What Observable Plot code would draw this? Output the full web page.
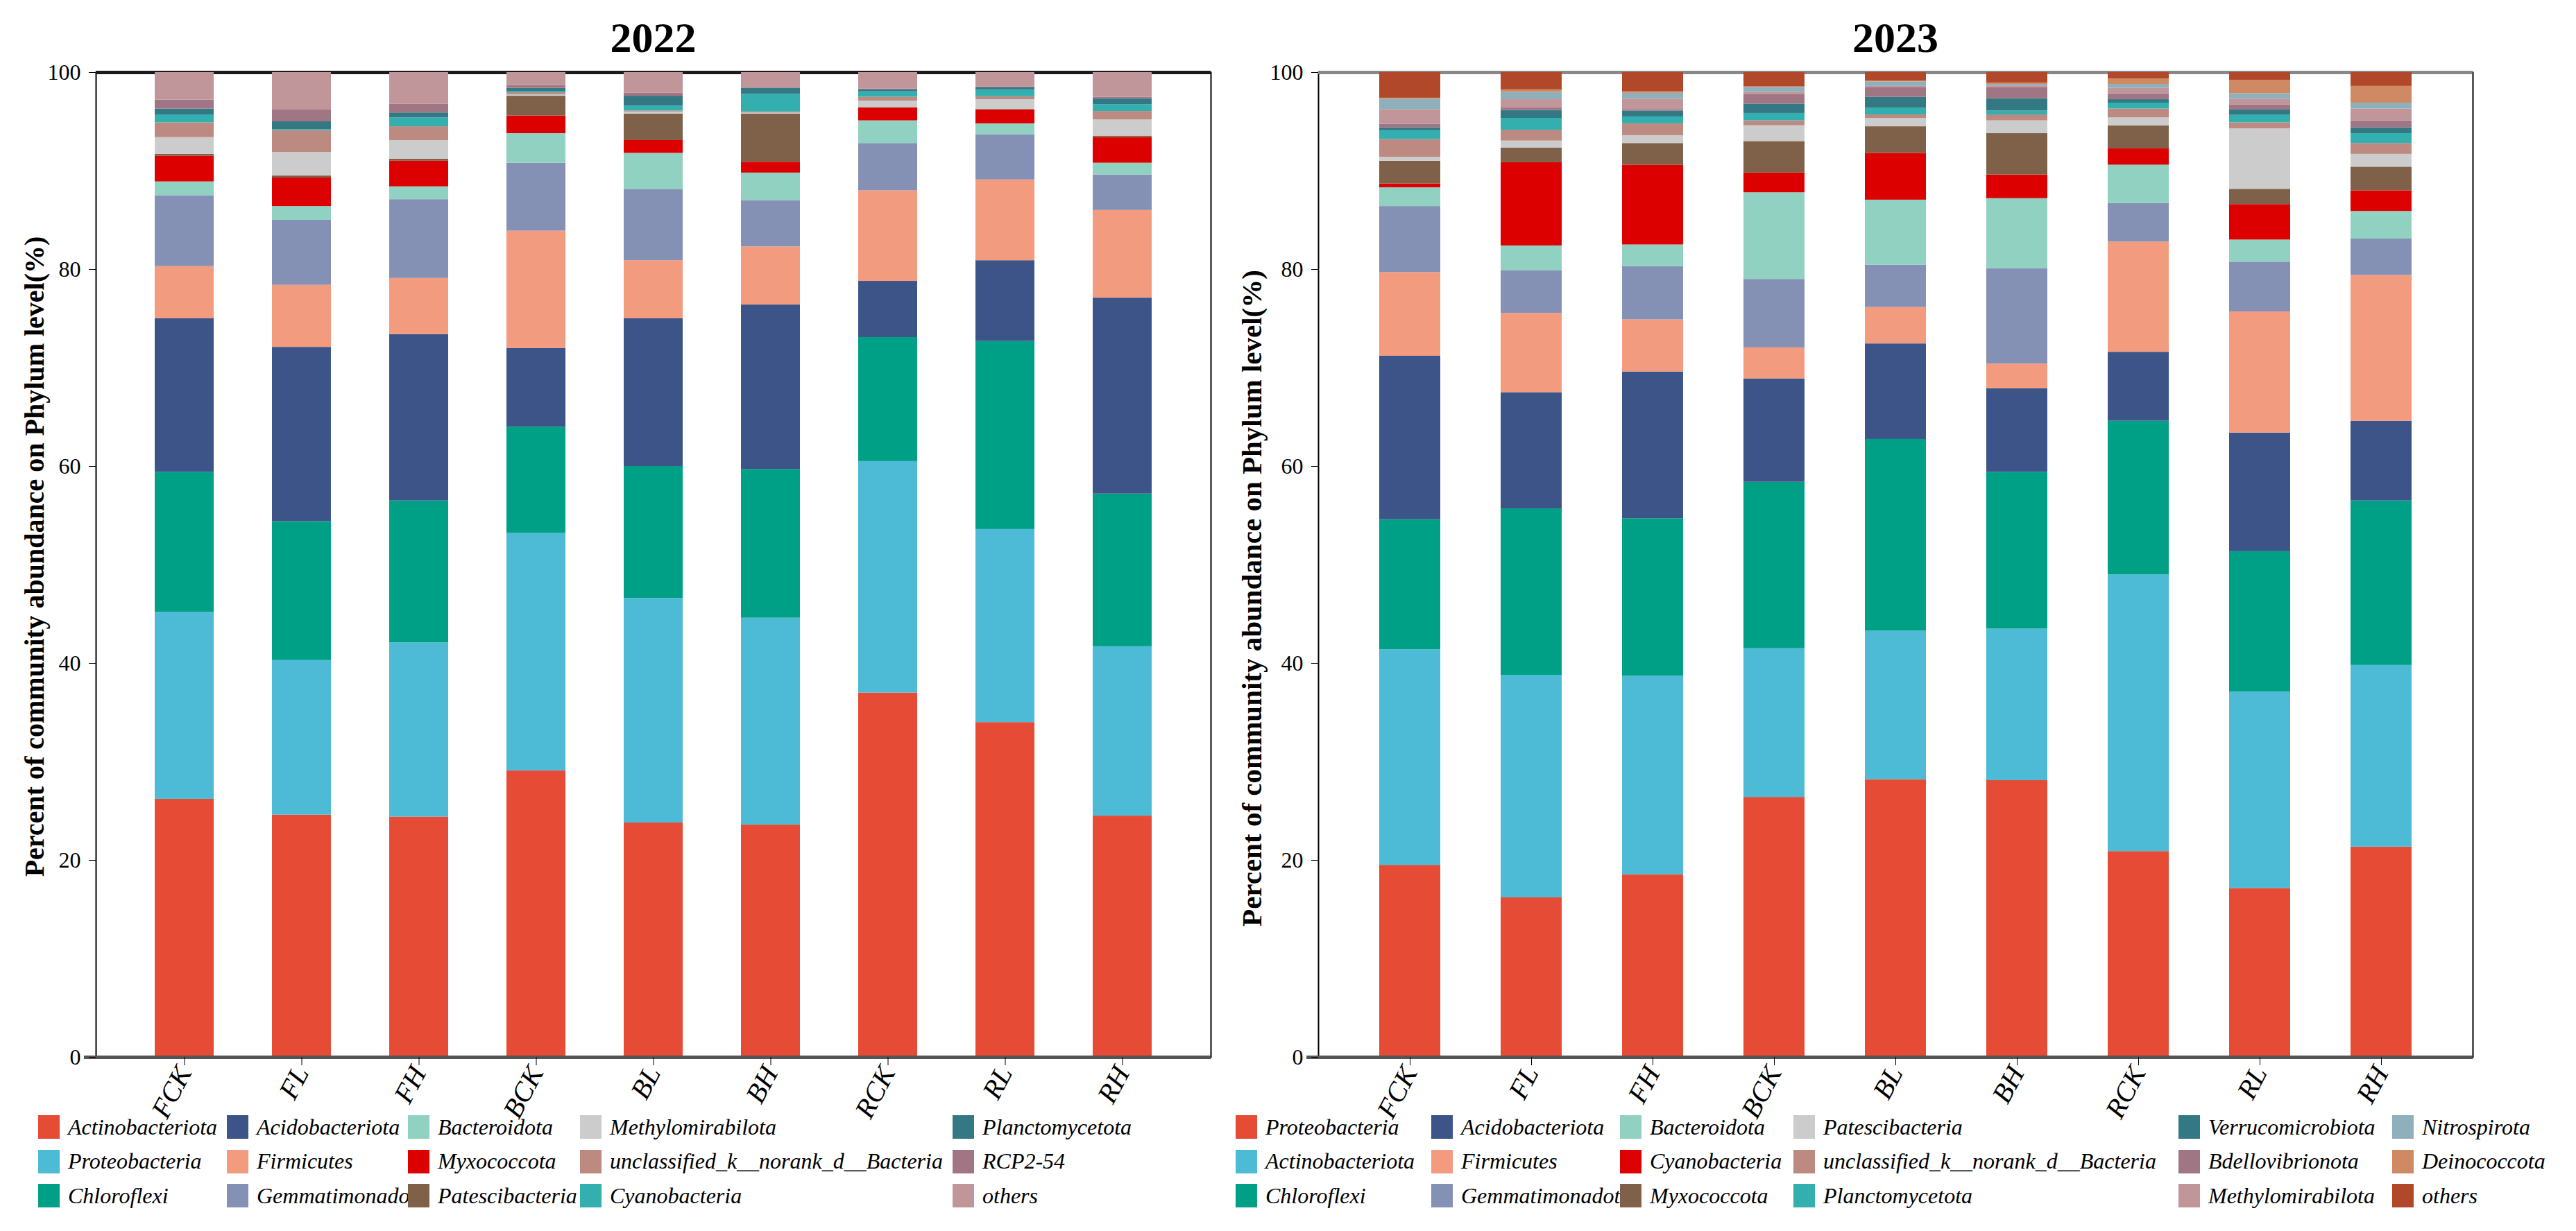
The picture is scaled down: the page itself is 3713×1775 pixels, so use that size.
<!DOCTYPE html>
<html>
<head>
<meta charset="utf-8">
<script src="https://cdn.jsdelivr.net/npm/d3@7"></script>
<script src="https://cdn.jsdelivr.net/npm/@observablehq/plot@0.6"></script>
<style>
  html, body { margin: 0; padding: 0; background: #fff; }
  #page { position: relative; width: 3713px; height: 1775px; overflow: hidden; background: #fff; font-family: "Liberation Serif", "Times New Roman", serif; }
  .title { position: absolute; text-align: center; font-weight: bold; font-size: 62px; line-height: 62px; color: #000; }
  .chart { position: absolute; top: 80px; }
  .chart svg { overflow: visible; }
  g[aria-label="y-axis label"] text { font-weight: bold; font-size: 40px; }
  #c2022 g[aria-label="y-axis label"] { translate: 0px -12px; }
  #c2023 g[aria-label="y-axis label"] { translate: 0px 48px; }
  #c2023 g[aria-label="y-axis label"] text { font-size: 41px; }
  g[aria-label="x-axis tick label"] text { font-style: italic; }
  .legend { position: absolute; top: 1608px; display: grid; grid-template-rows: repeat(3, 49.5px); grid-auto-flow: column; }
  .item { position: relative; display: flex; align-items: center; height: 34px; white-space: nowrap; font-style: italic; font-size: 32px; color: #000; }
  .sw { position: relative; z-index: 2; flex: 0 0 31px; height: 34px; margin-right: 12px; }
  .lab { position: relative; z-index: 1; }
</style>
</head>
<body>
<div id="page">
  <div class="title" style="left:138px; width:1607px; top:23px;">2022</div>
  <div class="title" style="left:1900px; width:1664px; top:23px;">2023</div>
  <div class="chart" id="c2022" style="left:0px;"></div>
  <div class="chart" id="c2023" style="left:1746px;"></div>
  <div class="legend" id="l2022" style="left:55px; grid-template-columns: 272px 261px 248px 537px 300px;"></div>
  <div class="legend" id="l2023" style="left:1781px; grid-template-columns: 282px 272px 250px 555px 308px 260px;"></div>
</div>
<script>
// ---------- data ----------
const samples = ["FCK", "FL", "FH", "BCK", "BL", "BH", "RCK", "RL", "RH"];
const yTicks = [0, 20, 40, 60, 80, 100];
const yLabel = "Percent of community abundance on Phylum level(%)";

// 2022 phyla (stack order bottom -> top) and colours
const phyla2022 = ["Actinobacteriota", "Proteobacteria", "Chloroflexi", "Acidobacteriota", "Firmicutes",
  "Gemmatimonadota", "Bacteroidota", "Myxococcota", "Patescibacteria", "Methylomirabilota",
  "unclassified_k__norank_d__Bacteria", "Cyanobacteria", "Planctomycetota", "RCP2-54", "others"];
const colors2022 = ["#E64B35", "#4DBBD5", "#00A087", "#3C5488", "#F39B7F", "#8491B4", "#91D1C2", "#DC0000",
  "#7E6148", "#CCCCCC", "#BC8A80", "#33AFAF", "#347884", "#A07584", "#C1969B"];

// 2022 values (%), per sample FCK..RH
const a22_Actinobacteriota = [26.2, 24.6, 24.4, 29.1, 23.8, 23.6, 37.0, 34.0, 24.5];
const a22_Proteobacteria   = [19.0, 15.7, 17.7, 24.1, 22.8, 21.0, 23.5, 19.6, 17.2];
const a22_Chloroflexi      = [14.2, 14.1, 14.4, 10.8, 13.4, 15.1, 12.6, 19.1, 15.5];
const a22_Acidobacteriota  = [15.6, 17.7, 16.9, 8.0, 15.0, 16.7, 5.7, 8.2, 19.9];
const a22_Firmicutes       = [5.3, 6.3, 5.7, 11.9, 5.9, 5.9, 9.2, 8.2, 8.9];
const a22_Gemmatimonadota  = [7.2, 6.6, 8.0, 6.9, 7.2, 4.7, 4.8, 4.6, 3.6];
const a22_Bacteroidota     = [1.4, 1.4, 1.3, 3.0, 3.7, 2.8, 2.3, 1.1, 1.2];
const a22_Myxococcota      = [2.6, 2.9, 2.6, 1.8, 1.3, 1.1, 1.3, 1.4, 2.6];
const a22_Patescibacteria  = [0.2, 0.2, 0.2, 2.0, 2.7, 4.9, 0.05, 0.05, 0.15];
const a22_Methylomirabilota= [1.7, 2.4, 1.9, 0.15, 0.2, 0.1, 0.65, 1.0, 1.65];
const a22_unclassified     = [1.5, 2.2, 1.4, 0.2, 0.1, 0.1, 0.4, 0.3, 0.85];
const a22_Cyanobacteria    = [0.8, 0.1, 0.9, 0.15, 0.5, 1.8, 0.55, 0.7, 0.7];
const a22_Planctomycetota  = [0.6, 0.8, 0.5, 0.3, 1.0, 0.6, 0.2, 0.2, 0.6];
const a22_RCP2_54          = [0.9, 1.2, 0.9, 0.3, 0.3, 0.1, 0.1, 0.1, 0.15];
const a22_others           = [2.8, 3.8, 3.2, 1.3, 2.1, 1.5, 1.65, 1.45, 2.5];

// 2023 phyla (stack order bottom -> top) and colours
const phyla2023 = ["Proteobacteria", "Actinobacteriota", "Chloroflexi", "Acidobacteriota", "Firmicutes",
  "Gemmatimonadota", "Bacteroidota", "Cyanobacteria", "Myxococcota", "Patescibacteria",
  "unclassified_k__norank_d__Bacteria", "Planctomycetota", "Verrucomicrobiota", "Bdellovibrionota",
  "Methylomirabilota", "Nitrospirota", "Deinococcota", "others"];
const colors2023 = ["#E64B35", "#4DBBD5", "#00A087", "#3C5488", "#F39B7F", "#8491B4", "#91D1C2", "#DC0000",
  "#7E6148", "#CCCCCC", "#BC8A80", "#33AFAF", "#347884", "#A07584", "#C1969B", "#8FB0BB", "#CF8963", "#B2482A"];

// 2023 values (%), per sample FCK..RH
const a23_Proteobacteria   = [19.5, 16.2, 18.55, 26.4, 28.2, 28.1, 20.9, 17.15, 21.35];
const a23_Actinobacteriota = [21.9, 22.6, 20.15, 15.1, 15.1, 15.4, 28.1, 19.95, 18.45];
const a23_Chloroflexi      = [13.2, 16.9, 16.0, 16.9, 19.45, 15.9, 15.6, 14.25, 16.7];
const a23_Acidobacteriota  = [16.6, 11.8, 14.9, 10.5, 9.7, 8.5, 7.0, 12.05, 8.1];
const a23_Firmicutes       = [8.5, 8.05, 5.3, 3.15, 3.7, 2.5, 11.2, 12.3, 14.8];
const a23_Gemmatimonadota  = [6.7, 4.35, 5.4, 6.95, 4.3, 9.7, 3.9, 5.05, 3.7];
const a23_Bacteroidota     = [1.9, 2.5, 2.2, 8.8, 6.6, 7.1, 3.9, 2.25, 2.8];
const a23_Cyanobacteria    = [0.4, 8.45, 8.1, 2.0, 4.75, 2.4, 1.65, 3.6, 2.1];
const a23_Myxococcota      = [2.3, 1.5, 2.2, 3.2, 2.7, 4.2, 2.35, 1.55, 2.4];
const a23_Patescibacteria  = [0.4, 0.7, 0.8, 1.6, 0.85, 1.3, 0.8, 6.15, 1.3];
const a23_unclassified     = [1.8, 1.1, 1.2, 0.5, 0.35, 0.6, 0.9, 0.6, 1.1];
const a23_Planctomycetota  = [0.9, 1.2, 0.7, 0.75, 0.7, 0.4, 0.6, 0.8, 1.0];
const a23_Verrucomicrobiota= [0.3, 0.8, 0.6, 0.95, 1.1, 1.25, 0.35, 0.5, 0.6];
const a23_Bdellovibrionota = [0.35, 0.3, 0.15, 1.0, 1.0, 1.15, 0.6, 0.5, 0.7];
const a23_Methylomirabilota= [1.5, 0.8, 1.05, 0.2, 0.1, 0.15, 0.55, 0.6, 1.2];
const a23_Nitrospirota     = [1.05, 0.75, 0.6, 0.5, 0.45, 0.15, 0.4, 0.55, 0.6];
const a23_Deinococcota     = [0.1, 0.25, 0.15, 0.05, 0.1, 0.15, 0.55, 1.35, 1.7];
const a23_others           = [2.6, 1.75, 1.95, 1.45, 0.85, 1.05, 0.65, 0.8, 1.4];

const series2022 = [a22_Actinobacteriota, a22_Proteobacteria, a22_Chloroflexi, a22_Acidobacteriota, a22_Firmicutes,
  a22_Gemmatimonadota, a22_Bacteroidota, a22_Myxococcota, a22_Patescibacteria, a22_Methylomirabilota,
  a22_unclassified, a22_Cyanobacteria, a22_Planctomycetota, a22_RCP2_54, a22_others];
const series2023 = [a23_Proteobacteria, a23_Actinobacteriota, a23_Chloroflexi, a23_Acidobacteriota, a23_Firmicutes,
  a23_Gemmatimonadota, a23_Bacteroidota, a23_Cyanobacteria, a23_Myxococcota, a23_Patescibacteria,
  a23_unclassified, a23_Planctomycetota, a23_Verrucomicrobiota, a23_Bdellovibrionota,
  a23_Methylomirabilota, a23_Nitrospirota, a23_Deinococcota, a23_others];

// ---------- build ----------
function rowsFor(phyla, series) {
  const rows = [];
  phyla.forEach((p, i) => samples.forEach((s, j) => rows.push({sample: s, phylum: p, value: series[i][j]})));
  return rows;
}

function makeChart(phyla, series, colors, opts) {
  const rows = rowsFor(phyla, series);
  return Plot.plot({
    width: opts.width,
    height: 24 + 1420 + 100,
    marginTop: 24,
    marginBottom: 100,
    marginLeft: opts.marginLeft,
    marginRight: opts.marginRight,
    style: {fontFamily: "'Liberation Serif', 'Times New Roman', serif", fontSize: "32px", background: "transparent", color: "#000", overflow: "visible"},
    x: {domain: samples, padding: 0.5, label: null},
    y: {domain: [0, 100], label: null},
    color: {domain: phyla, range: colors},
    marks: [
      Plot.frame({stroke: "#000", strokeWidth: 2}),
      Plot.ruleY([100], {stroke: opts.topStroke, strokeWidth: 5}),
      Plot.barY(rows, {x: "sample", y: "value", fill: "phylum"}),
      Plot.ruleY([0], {stroke: "#555", strokeWidth: 5, insetLeft: -17}),
      Plot.axisX({tickSize: 12, tickPadding: 4, tickRotate: -62, fontSize: 40, label: null}),
      Plot.axisY({ticks: yTicks, tickSize: 10, tickPadding: 12, fontSize: 32,
        label: yLabel, labelAnchor: "center", labelOffset: opts.labelOffset, labelArrow: "none"})
    ]
  });
}

document.getElementById("c2022").append(makeChart(phyla2022, series2022, colors2022,
  {width: 1750, marginLeft: 138, marginRight: 5, labelOffset: 104, topStroke: "#1a1a1a"}));
document.getElementById("c2023").append(makeChart(phyla2023, series2023, colors2023,
  {width: 1967, marginLeft: 154, marginRight: 149, labelOffset: 112, topStroke: "#888"}));

function legend(id, phyla, colors) {
  const el = document.getElementById(id);
  phyla.forEach((p, i) => {
    const item = document.createElement("div");
    item.className = "item";
    const sw = document.createElement("span");
    sw.className = "sw";
    sw.style.background = colors[i];
    const t = document.createElement("span");
    t.className = "lab";
    t.textContent = p;
    item.append(sw, t);
    el.append(item);
  });
}
legend("l2022", phyla2022, colors2022);
legend("l2023", phyla2023, colors2023);
</script>
</body>
</html>
